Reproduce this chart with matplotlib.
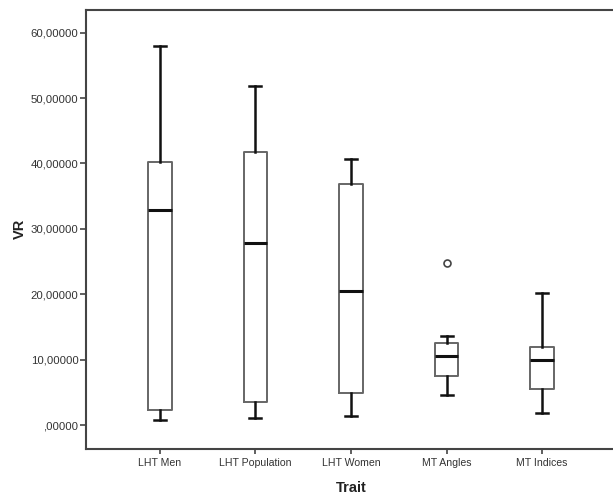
import matplotlib
matplotlib.use("Agg")
import matplotlib.pyplot as plt
from matplotlib.ticker import FuncFormatter

categories = ["LHT Men", "LHT Population", "LHT Women", "MT Angles", "MT Indices"]
whislo = [0.87, 1.07, 1.43, 4.57, 1.89]
q1 = [2.4, 3.6, 4.93, 7.6, 5.6]
med = [32.85, 27.8, 20.45, 10.6, 10.0]
q3 = [40.2, 41.7, 36.8, 12.5, 12.0]
whishi = [58.0, 51.8, 40.7, 13.6, 20.26]
fliers = [[], [], [], [24.73], []]
yticks = [0, 10, 20, 30, 40, 50, 60]

plt.rcParams['font.family'] = ['Liberation Sans', 'DejaVu Sans']

fig = plt.figure(figsize=(6.13, 4.94), dpi=100)
W, H = 613, 494
left, right, top, bottom = 86, 616, 9.7, 448.5
ax = fig.add_axes([left / W, 1 - bottom / H, (right - left) / W, (bottom - top) / H])

stats = []
for i, c in enumerate(categories):
    stats.append(dict(label=c, whislo=whislo[i], q1=q1[i], med=med[i],
                      q3=q3[i], whishi=whishi[i], fliers=fliers[i]))

positions = list(range(1, len(categories) + 1))
ax.bxp(stats, positions=positions, widths=0.25, showfliers=True,
       boxprops=dict(color="#666666", linewidth=1.4),
       medianprops=dict(color="#111111", linewidth=2.2),
       whiskerprops=dict(color="#111111", linewidth=1.8),
       capprops=dict(color="#111111", linewidth=1.8),
       capwidths=0.125,
       flierprops=dict(marker="o", markersize=5, markerfacecolor="white",
                       markeredgecolor="#444444", markeredgewidth=1.2))

ax.set_xlim(0.226, 5.774)
ax.set_ylim(-3.55, 63.5)
ax.set_yticks(yticks)


def fmt(v, p):
    s = ("%.5f" % v).replace(".", ",")
    return s.lstrip("0") if v == 0 else s


ax.yaxis.set_major_formatter(FuncFormatter(fmt))
ax.set_xticks(positions)
ax.set_xticklabels(categories)

for s in ax.spines.values():
    s.set_color("#444444")
    s.set_linewidth(1.5)

ax.tick_params(axis="y", length=4.5, width=1.2, color="#444444",
               labelsize=8.2, labelcolor="#333333", pad=1)
ax.tick_params(axis="x", length=3.5, width=1.2, color="#444444",
               labelsize=7.6, labelcolor="#333333", pad=3.5)

ax.set_ylabel("VR", fontsize=10.5, fontweight="bold", color="#222222", labelpad=2.5)
ax.set_xlabel("Trait", fontsize=10.5, fontweight="bold", color="#222222", labelpad=9)

fig.savefig("out.png", dpi=100)
